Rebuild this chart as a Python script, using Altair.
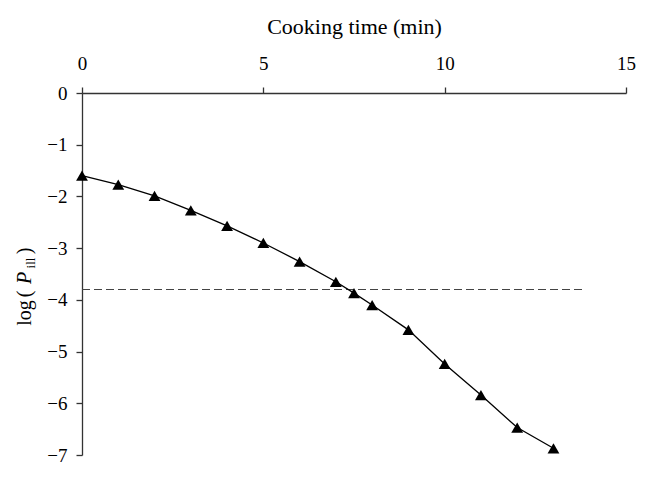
import altair as alt
import pandas as pd

# Data
times = [0, 1, 2, 3, 4, 5, 6, 7, 7.5, 8, 9, 10, 11, 12, 13]
log_p_ill = [-1.6, -1.77, -1.99, -2.27, -2.57, -2.9, -3.26, -3.65, -3.87, -4.1,
             -4.58, -5.24, -5.84, -6.47, -6.87]
threshold_y = [-3.8]
threshold_x_start = [0]
threshold_x_end = [13.8]
x_ticks = [0, 5, 10, 15]
y_ticks = [0, -1, -2, -3, -4, -5, -6, -7]

FONT = "Liberation Serif"
AX = "#333333"

df = pd.DataFrame({"t": times, "p": log_p_ill})
thr = pd.DataFrame({"x": threshold_x_start, "x2": threshold_x_end, "y": threshold_y})

x_enc = alt.X("t:Q", scale=alt.Scale(domain=[0, 15], nice=False, zero=False),
              axis=alt.Axis(orient="top", values=x_ticks, title="Cooking time (min)",
                            titlePadding=16, labelPadding=14, format="d",
                            labelFlush=False))
y_enc = alt.Y("p:Q", scale=alt.Scale(domain=[-7, 0], nice=False, zero=False),
              axis=alt.Axis(orient="left", values=y_ticks, title=None,
                            labelPadding=9, format="d", labelFlush=False))

line = alt.Chart(df).mark_line(color="black", strokeWidth=1.3).encode(x=x_enc, y=y_enc)
pts = alt.Chart(df).mark_point(shape="triangle-up", filled=True, color="black",
                               size=140, opacity=1).encode(x="t:Q", y="p:Q")

rule = alt.Chart(thr).mark_rule(color="#444444", strokeWidth=1.2,
                                strokeDash=[8, 4]).encode(
    x="x:Q", x2="x2:Q", y="y:Q")

one = pd.DataFrame({"k": [0]})

def piece(txt, x, y, size=20, style="normal"):
    return alt.Chart(one).mark_text(angle=270, font=FONT, fontSize=size, fontStyle=style,
                                    align="center", baseline="middle", color="black").encode(
        x=alt.value(x), y=alt.value(y), text=alt.value(txt))

title_parts = [
    piece("log", -57, 220),
    piece("(", -57, 201),
    piece("P", -57, 185, style="italic"),
    piece("ill", -51.5, 170, size=13),
    piece(")", -57, 158),
]

chart = alt.layer(rule, line, pts, *title_parts).properties(
    width=544, height=362,
    autosize=alt.AutoSizeParams(type="none"),
    padding={"left": 74, "top": 85, "right": 36, "bottom": 33},
    background="white",
).configure_view(stroke=None).configure_axis(
    domainColor=AX, tickColor=AX, domainWidth=1.3, tickWidth=1.3, tickSize=6,
    grid=False, labelFont=FONT, labelFontSize=19, labelColor="black",
    titleFont=FONT, titleFontSize=22, titleFontWeight="normal", titleColor="black",
)

chart.save("out.html", embed_options={"renderer": "svg", "actions": False})
